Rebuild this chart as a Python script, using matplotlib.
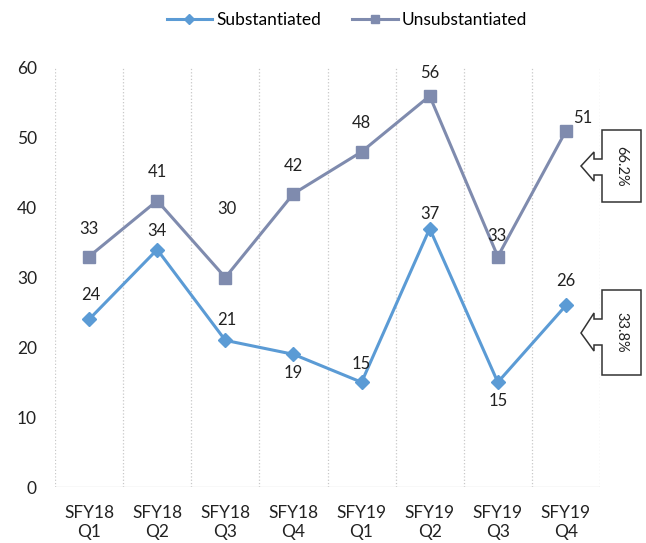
import matplotlib.pyplot as plt
from matplotlib.patches import Polygon

plt.rcParams['font.family'] = ['Lato', 'DejaVu Sans']

quarters = ['SFY18\nQ1', 'SFY18\nQ2', 'SFY18\nQ3', 'SFY18\nQ4',
            'SFY19\nQ1', 'SFY19\nQ2', 'SFY19\nQ3', 'SFY19\nQ4']
substantiated = [24, 34, 21, 19, 15, 37, 15, 26]
unsubstantiated = [33, 41, 30, 42, 48, 56, 33, 51]
share_labels = ['66.2%', '33.8%']

# label offsets in pixels (dx, dy up)
sub_off = [(2, 24), (0, 19), (1, 20), (0, -19), (0, 18), (0, 15), (0, -19), (0, 24)]
uns_off = [(0, 28), (0, 29), (2, 68), (0, 28), (0, 29), (0, 23), (-1, 21), (17, 13)]

W, H = 646, 543
fig = plt.figure(figsize=(W / 100, H / 100), dpi=100)
ax = fig.add_axes([55 / W, 1 - 487 / H, 545 / W, 419 / H])

c_sub = '#5B9BD5'
c_uns = '#7F8BAE'
x = range(len(quarters))
ax.plot(x, substantiated, color=c_sub, lw=2.2, marker='D', ms=7, label='Substantiated')
ax.plot(x, unsubstantiated, color=c_uns, lw=2.2, marker='s', ms=8, label='Unsubstantiated')

for i in x:
    dx, dy = sub_off[i]
    ax.annotate(str(substantiated[i]), (i, substantiated[i]), xytext=(dx * 0.72, dy * 0.72),
                textcoords='offset points', ha='center', va='center', fontsize=12, color='#222222')
    dx, dy = uns_off[i]
    ax.annotate(str(unsubstantiated[i]), (i, unsubstantiated[i]), xytext=(dx * 0.72, dy * 0.72),
                textcoords='offset points', ha='center', va='center', fontsize=12, color='#222222')

ax.set_xlim(-0.5, 7.5)
ax.set_ylim(0, 60)
ax.set_yticks(range(0, 61, 10))
ax.set_xticks(list(x))
ax.set_xticklabels(quarters, fontsize=11.5, linespacing=1.25)
ax.tick_params(length=0, colors='#222222', labelsize=12.5)
ax.tick_params(axis='x', pad=13)
ax.tick_params(axis='y', pad=13)
for s in ax.spines.values():
    s.set_visible(False)
for b in range(9):
    ax.axvline(b - 0.5, color='#C8C8C8', lw=0.9, ls=':', zorder=0)
ax.axhline(0, color='#C8C8C8', lw=0.9, zorder=0)

fig.legend(loc='center', bbox_to_anchor=(347 / W, 1 - 20 / H), ncol=2, frameon=False,
           fontsize=12.5, handlelength=2.6, columnspacing=1.8, handletextpad=0.25,
           markerscale=0.75)


def px(pts):
    return [(a / W, 1 - b / H) for a, b in pts]


def callout(top, bot, tip_y, shaft, head, text):
    pts = [(602, top), (641, top), (641, bot), (602, bot), (602, shaft[1]), (594, shaft[1]),
           (594, head[1]), (581, tip_y), (594, head[0]), (594, shaft[0]), (602, shaft[0])]
    fig.patches.append(Polygon(px(pts), closed=True, transform=fig.transFigure,
                               facecolor='white', edgecolor='#333333', lw=1.1))
    fig.text(621.5 / W, 1 - (top + bot) / 2 / H, text, rotation=-90, ha='center', va='center',
             fontsize=10.5, color='#222222')


callout(130, 202, 166, (159, 175), (152, 181), share_labels[0])
callout(290, 375, 333, (319, 345), (313, 351), share_labels[1])

fig.savefig('out.png', dpi=100)
